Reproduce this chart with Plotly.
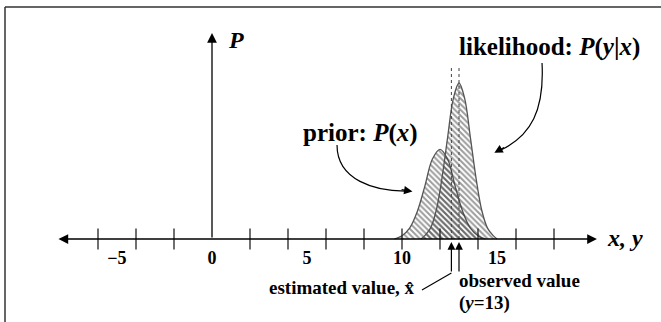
import plotly.graph_objects as go

# ---- data -------------------------------------------------------------
# prior P(x): bell centred near 12
prior_x = [9.6, 10.0, 10.4, 10.8, 11.2, 11.6, 12.0, 12.4, 12.8, 13.2, 13.6, 14.0, 14.4]
prior_p = [0.0, 0.017, 0.056, 0.14, 0.27, 0.41, 0.46, 0.41, 0.27, 0.14, 0.056, 0.017, 0.0]

# likelihood P(y|x): narrower bell centred on the observation
like_x = [11.0, 11.2, 11.5, 11.8, 12.1, 12.4, 12.7, 13.0, 13.3, 13.6, 13.9, 14.2, 14.5, 14.8, 15.0]
like_p = [0.0, 0.017, 0.056, 0.146, 0.31, 0.52, 0.72, 0.80, 0.72, 0.52, 0.31, 0.146, 0.056, 0.017, 0.0]

x_hat = 12.6      # estimated value
y_obs = 13        # observed value

tick_marks = [-6, -4, -2, 2, 4, 6, 8, 10, 12, 14, 16, 18]
tick_label_vals = [-5, 0, 5, 10, 15]
tick_label_text = ["\u22125", "0", "5", "10", "15"]

# ---- styling ----------------------------------------------------------
SERIF = "Liberation Serif, Times New Roman, serif"
X_RANGE = [-212 / 19, (661 - 212) / 19]
Y_RANGE = [-(322 - 239) / 195, 239 / 195]

HATCH = dict(shape="\\", fgcolor="#3a3a3a", bgcolor="rgba(255,255,255,0)", size=4, solidity=0.5)

fig = go.Figure()

# hatched bells
fig.add_trace(go.Scatter(
    x=prior_x, y=prior_p, mode="lines", line=dict(color="#555", width=1.3, shape="spline"),
    fill="tozeroy", fillcolor="rgba(0,0,0,0)", fillpattern=HATCH,
    hoverinfo="skip", showlegend=False))
fig.add_trace(go.Scatter(
    x=like_x, y=like_p, mode="lines", line=dict(color="#555", width=1.3, shape="spline"),
    fill="tozeroy", fillcolor="rgba(0,0,0,0)", fillpattern=HATCH,
    hoverinfo="skip", showlegend=False))

# dotted guides at the estimate and the observation
for xv in (x_hat, y_obs):
    fig.add_shape(type="line", x0=xv, x1=xv, y0=0, y1=0.88,
                  line=dict(color="#444", width=1, dash="dot"))

# tick marks crossing the axis
fig.add_trace(go.Scatter(
    x=tick_marks, y=[0] * len(tick_marks), mode="markers",
    marker=dict(symbol="line-ns-open", size=15, color="#222", line=dict(color="#222", width=1.3)),
    hoverinfo="skip", showlegend=False))

# tick labels
fig.add_trace(go.Scatter(
    x=tick_label_vals, y=[-0.105] * len(tick_label_vals), mode="text",
    text=[f"<b>{t}</b>" for t in tick_label_text],
    textfont=dict(family=SERIF, size=18, color="black"),
    hoverinfo="skip", showlegend=False))

arrow = dict(showarrow=True, arrowcolor="black", text="", axref="x", ayref="y")

# horizontal x, y axis with arrows on both ends
fig.add_annotation(x=20.26, y=0, ax=-8.16, ay=0, arrowside="end+start",
                   arrowhead=2, arrowsize=1.5, arrowwidth=1.3, **arrow)
# vertical P axis
fig.add_annotation(x=0, y=1.056, ax=0, ay=0, arrowhead=2, arrowsize=1.5,
                   arrowwidth=1.3, **arrow)

# arrows pointing up at the estimate and the observation
for xv in (x_hat, y_obs):
    fig.add_annotation(x=xv, y=-0.015, ax=xv, ay=-0.174, arrowhead=2,
                       arrowsize=1.3, arrowwidth=1.2, **arrow)
fig.add_shape(type="line", x0=x_hat, y0=-0.174, x1=11.05, y1=-0.262,
              line=dict(color="black", width=1.1))

# curved pointer from the prior label
fig.add_shape(type="path", path="M 6.58,0.482 C 6.58,0.30 8.6,0.245 10.2,0.246",
              line=dict(color="black", width=1.2))
fig.add_annotation(x=10.55, y=0.244, ax=9.9, ay=0.254, arrowhead=2,
                   arrowsize=1.4, arrowwidth=1.2, **arrow)

# curved pointer from the likelihood label
fig.add_shape(type="path", path="M 17.37,0.903 C 17.5,0.66 16.8,0.53 15.2,0.456",
              line=dict(color="black", width=1.2))
fig.add_annotation(x=14.86, y=0.442, ax=15.45, ay=0.474, arrowhead=2,
                   arrowsize=1.4, arrowwidth=1.2, **arrow)

# labels
def label(x, y, text, size, xanchor="center"):
    fig.add_annotation(x=x, y=y, text=text, showarrow=False, xanchor=xanchor,
                       yanchor="middle", font=dict(family=SERIF, size=size, color="black"))

label(0.75, 1.02, "<b><i>P</i></b>", 24, "left")
label(21.74, 0.005, "<b><i>x, y</i></b>", 24)
label(17.74, 0.985, "<b>likelihood: <i>P</i>(<i>y</i>|<i>x</i>)</b>", 25)
label(7.8, 0.544, "<b>prior: <i>P</i>(<i>x</i>)</b>", 25)
label(10.8, -0.25, "<b>estimated value, x\u0302</b>", 19, "right")
label(y_obs - 0.1, -0.215, "<b>observed value</b>", 19, "left")
label(y_obs - 0.1, -0.328, f"<b>(<i>y</i>={y_obs})</b>", 19, "left")

# frame along the top and left edges
fig.add_shape(type="line", xref="paper", yref="paper", x0=5 / 661, x1=1,
              y0=1 - 7 / 322, y1=1 - 7 / 322, line=dict(color="#333", width=1.5))
fig.add_shape(type="line", xref="paper", yref="paper", x0=5 / 661, x1=5 / 661,
              y0=0, y1=1 - 7 / 322, line=dict(color="#333", width=1.5))

fig.update_layout(
    width=661, height=322, autosize=False,
    margin=dict(l=0, r=0, t=0, b=0),
    paper_bgcolor="white", plot_bgcolor="white",
    xaxis=dict(range=X_RANGE, visible=False, fixedrange=True),
    yaxis=dict(range=Y_RANGE, visible=False, fixedrange=True),
)

fig.write_html("out.html")
